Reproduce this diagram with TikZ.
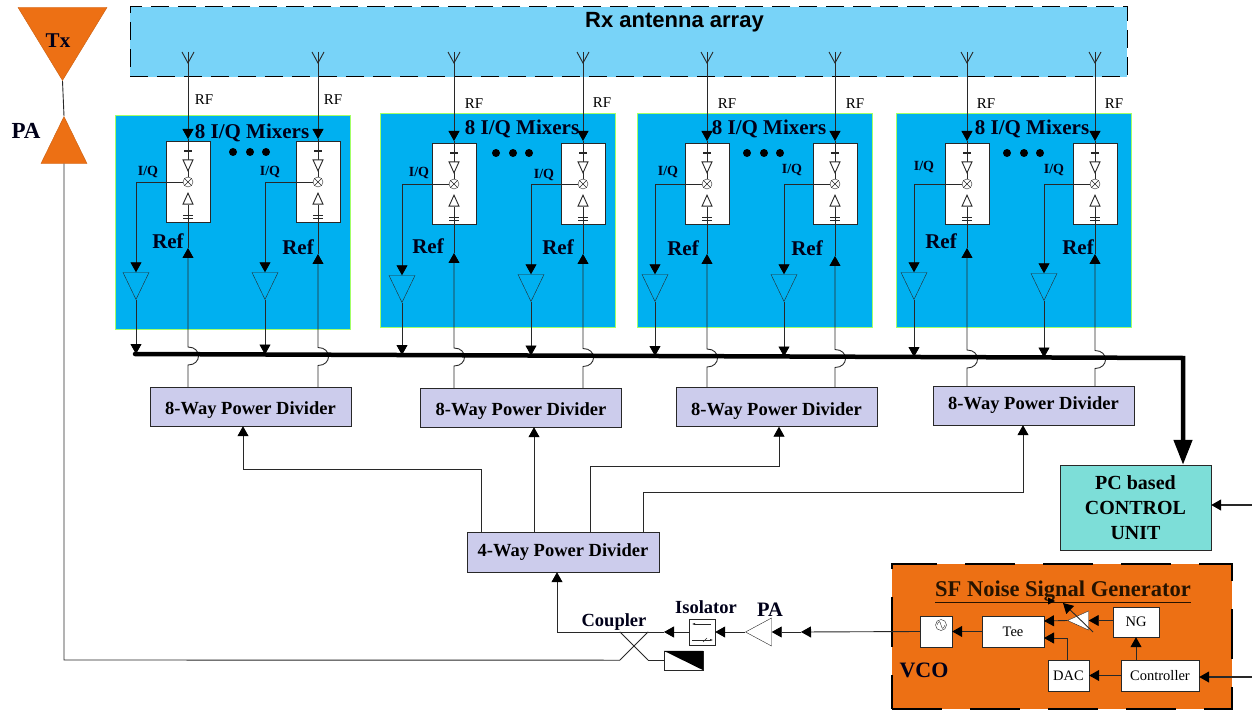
\documentclass[tikz,border=0pt]{standalone}
\usepackage{fontspec}
\setmainfont{Liberation Serif}
\setsansfont{Liberation Sans}
\usepackage{xcolor}
\usetikzlibrary{positioning,arrows.meta,shapes.geometric,calc}
\definecolor{blockblue}{RGB}{0,176,240}
\definecolor{arrayblue}{RGB}{120,211,248}
\definecolor{txorange}{RGB}{237,112,20}
\definecolor{pdpurple}{RGB}{204,204,236}
\definecolor{unitteal}{RGB}{125,222,216}
\definecolor{wire}{RGB}{40,40,40}
\newcommand{\pdtext}[1]{\raisebox{-4pt}[12pt][4pt]{#1}}
\tikzset{
blockbox/.style={
draw=green!60!yellow!60,
fill=blockblue,
minimum width=235,
minimum height=214,
inner sep=0
},
mixbox/.style={
draw=wire,
fill=white,
minimum width=44,
minimum height=81,
inner sep=0
},
pdbox/.style={
draw=wire,
fill=pdpurple,
minimum width=201,
minimum height=39,
inner sep=0,
font=\fontsize{18.5}{19}\selectfont\bfseries
},
whitebox/.style={
draw=wire,
fill=white,
inner sep=0,
font=\fontsize{14.5}{15}\selectfont
},
ampnode/.style={
isosceles triangle,
isosceles triangle stretches,
shape border rotate=270,
draw=wire,
inner sep=0,
minimum width=26,
minimum height=27,
anchor=apex
},
smalltri/.style={
isosceles triangle,
isosceles triangle stretches,
draw=wire,
line width=0.9pt,
fill=white,
inner sep=0,
minimum width=10,
minimum height=11
},
mixcircle/.style={
circle,
draw=wire,
fill=white,
minimum size=10,
inner sep=0,
path picture={
\draw[wire,thin] (path picture bounding box.north west)--(path picture bounding box.south east);
\draw[wire,thin] (path picture bounding box.north east)--(path picture bounding box.south west);
}
},
lblbold/.style={
font=\fontsize{21}{22}\selectfont\bfseries,
text=black!90!blue,
inner sep=0
},
lblsmall/.style={
font=\fontsize{14}{15}\selectfont\bfseries,
text=black!90!blue,
inner sep=0
},
lblrf/.style={
font=\fontsize{15}{16}\selectfont,
inner sep=0
},
plainwire/.style={
draw=wire,
line width=0.9pt
},
arrow/.style={
-{Triangle[length=10pt,width=11pt,color=black,fill=black]},
draw=wire,
line width=0.9pt
},
busline/.style={
-{Triangle[length=25pt,width=18pt]},
line width=4.5pt,
line cap=round,
line join=miter
}
}
\begin{document}
\begin{tikzpicture}[x=1pt,y=-1pt]
\useasboundingbox (0,0) rectangle (1252,711);

% receive side
\node[draw=black,dash pattern=on 18pt off 9pt,line width=1pt,fill=arrayblue,minimum width=997,minimum height=70,inner sep=0](rxarray) at (628.5,42){};
\node[font=\fontsize{22}{23}\selectfont\bfseries\sffamily,inner sep=0](rxlabel) at (674.5,22){Rx antenna array};

\node[blockbox](blk1) at (232.5,222){};
\node[blockbox](blk2) at (497.5,220.5){};
\node[blockbox](blk3) at (754.5,220){};
\node[blockbox](blk4) at (1013.5,220){};

\node[pdbox](pd1) at (250.5,406.5){\pdtext{8-Way Power Divider}};
\node[pdbox](pd2) at (521,407.5){\pdtext{8-Way Power Divider}};
\node[pdbox](pd3) at (776.5,407){\pdtext{8-Way Power Divider}};
\node[pdbox](pd4) at (1033.5,405.5){8-Way Power Divider};
\node[pdbox,minimum width=192,minimum height=40](pdfour) at (563,552){4-Way Power Divider};

\coordinate (busl) at (135,354);
\coordinate (busr) at (1183,358);
\node[draw=wire,fill=unitteal,minimum width=151,minimum height=85,inner sep=0,align=center,font=\fontsize{20}{25}\selectfont\bfseries](unit) at (1135.5,507.5){PC based\\CONTROL\\UNIT};

% one channel: antenna, mixer, baseband amplifier, reference
\foreach \c/\b/\a/\p/\m/\t/\r/\u in {
a/1/188/136/141/273/248/354,
b/1/318/265/141/273/254/354.5,
c/2/454/402/143/276/253/355,
d/2/583/531/143/275/254/355.5,
e/3/707/655/143/275/254/356,
f/3/835/784/143/275/256/356.5,
g/4/967/914/143/273/248/357,
h/4/1095/1044/143/274/254/357.5}{
\node[mixbox,anchor=north](mix\c) at (\a,\m){};
\node[mixcircle](cir\c) at (\a,\m+41){};
\coordinate (ant\c) at (\a,63);
\draw[plainwire] (\a-6,52)--(ant\c)--(\a+6,52);
\draw[plainwire] (\a,52)--(ant\c);
\draw[arrow] (ant\c)--(\a,\m-2);
\draw[plainwire] (\a,\m-2)--(cir\c.north);
\node[smalltri,shape border rotate=270,anchor=apex](trd\c) at (\a,\m+31){};
\node[smalltri,shape border rotate=90,anchor=apex](tru\c) at (\a,\m+51){};
\draw[line width=1.4pt,wire] (\a-4,\m+10)--(\a+4,\m+10);
\draw[plainwire] (\a-5,\m+74)--(\a+5,\m+74);
\draw[plainwire] (\a-5,\m+77)--(\a+5,\m+77);
\node[ampnode](amp\c) at (\p,\t+27){};
\coordinate (tap\c) at (\p,\m+41);
\draw[arrow] (cir\c.west)--(tap\c)--(amp\c.lower side);
\coordinate (bus\c) at (\p,\u);
\draw[arrow] (amp\c.apex)--(bus\c);
\coordinate (ref\c) at (\a,\r);
\draw[arrow] (pd\b.north -| ref\c)--(\a,\u+11) .. controls (\a+14,\u+11) and (\a+14,\u-7) .. (\a,\u-7)--(ref\c);
\draw[plainwire] (ref\c)--(tru\c.lower side);
}

\draw[busline] (busl)--(busr)--(unit.north -| busr);

% labels inside the blocks
\foreach \x/\y in {204/100,333/100,474/104,602/103,727/104,855/104,986/104,1114/104}{
\node[lblrf] at (\x,\y){RF};
}
\foreach \x/\y in {252/133,522/129,769/129,1032/129}{
\node[lblbold] at (\x,\y){8 I/Q Mixers};
}
\foreach \x/\y in {148/172,270/172,419/173,544/175,668/172,792/170,924/167,1054/170}{
\node[lblsmall] at (\x,\y){I/Q};
}
\foreach \x/\y in {168/241,298/247,428/246,558/247,683/248,807/248,941/241,1078/247}{
\node[lblbold] at (\x,\y){Ref};
}
\foreach \x/\y in {250/152,513/153,764/153,1024/153}{
\fill (\x-17,\y) circle (4);
\fill (\x,\y) circle (4);
\fill (\x+16,\y) circle (4);
}

% 4-way to the 8-way dividers
\draw[arrow] (pdfour.north -| 481,0)--(481,469)--(243,469)--(pd1.south -| 243,0);
\draw[arrow] (pdfour.north -| 534,0)--(pd2.south -| 534,0);
\draw[arrow] (pdfour.north -| 590,0)--(590,466)--(779,466)--(pd3.south -| 779,0);
\draw[arrow] (pdfour.north -| 643,0)--(643,492)--(1023,492)--(pd4.south -| 1023,0);

% generator
\node[draw=black,dash pattern=on 50pt off 28pt,line width=2.5pt,fill=txorange,minimum width=340,minimum height=145,inner sep=0](gen) at (1062,636.5){};
\node[font=\fontsize{22.5}{23}\selectfont\bfseries,text=black!85!orange,inner sep=0](gentitle) at (1063,592){\underline{SF Noise Signal Generator}};
\node[lblbold,font=\fontsize{22}{23}\selectfont\bfseries](vcolabel) at (924,670){VCO};
\node[whitebox,minimum width=32,minimum height=31](vco) at (936,631.5){};
\node[draw=wire,circle,minimum size=11,inner sep=0](sine) at (941,625){};
\draw[wire,thin] (937,625) .. controls (939,620) and (940,621) .. (941,625) .. controls (942,629) and (943,630) .. (945,625);
\node[whitebox,minimum width=62,minimum height=31](tee) at (1013,631.5){Tee};
\node[whitebox,minimum width=46,minimum height=30](ng) at (1136,622){NG};
\node[whitebox,minimum width=41,minimum height=31](dac) at (1068.5,675.5){DAC};
\node[whitebox,minimum width=78,minimum height=31](ctrl) at (1160,675.5){Controller};
\node[isosceles triangle,isosceles triangle stretches,shape border rotate=180,draw=wire,fill=white,inner sep=0,minimum width=19,minimum height=21,anchor=apex](atten) at (1067,620.5){};
\coordinate (attena) at (1093,632);
\coordinate (attenb) at (1063,603);
\coordinate (inctrl) at (1252,677);
\coordinate (inunit) at (1252,505);
\coordinate (teeb) at (1044,638);
\coordinate (teea) at (1044,621);
\coordinate (dactop) at (1067,638);
\draw[arrow] (ng.west |- atten.lower side)--(atten.lower side);
\draw[arrow] (atten.apex)--(teea);
\draw[arrow] (attena)--(attenb);
\fill (1048,597.5)--(1055,601)--(1048,604.5)--cycle;
\draw[arrow] (ctrl.north -| ng)--(ng.south);
\draw[arrow] (ctrl.west |- dac)--(dac.east);
\draw[arrow] (dac.north -| dactop)--(dactop)--(teeb);
\draw[arrow] (tee.west)--(vco.east);
\draw[arrow,line width=1.2pt] (inctrl)--(ctrl.east |- inctrl);
\draw[arrow,line width=1.2pt] (inunit)--(unit.east |- inunit);

% transmit chain
\node[whitebox,minimum width=26,minimum height=26,fill=none](isol) at (702,632){};
\draw[-{Latex[length=3pt]},wire,thin] (711,624)--(692,624);
\draw[-{Latex[length=3pt]},wire,thin] (692,640)--(713,640);
\draw[wire,thin] (703,642)--(707,638);
\node[isosceles triangle,isosceles triangle stretches,shape border rotate=180,draw=wire,inner sep=0,minimum width=28,minimum height=26,anchor=apex](pa) at (745,632){};
\coordinate (midarrow) at (801,632);
\node[minimum width=28,minimum height=28,inner sep=0](coupler) at (634,646){};
\node[draw=wire,fill=white,minimum width=39,minimum height=19,inner sep=0](load) at (683.5,660.5){};
\fill (load.north west)--(load.north east)--(load.south east)--cycle;
\coordinate (bend) at (557,632);
\coordinate (txcorner) at (64,660);
\draw[arrow] (vco.west)--(midarrow);
\draw[arrow] (midarrow)--(pa.lower side);
\draw[arrow] (pa.apex)--(isol.east);
\draw[arrow] (isol.west)--(664,632);
\draw[arrow] (664,632)--(bend)--(pdfour.south -| bend);
\draw[wire,line width=0.8pt] (coupler.north west)--(coupler.south east);
\draw[wire,line width=0.8pt] (coupler.north east)--(coupler.south west);
\draw[plainwire] (coupler.south east)--(load.west |- coupler.south);
\node[isosceles triangle,isosceles triangle stretches,shape border rotate=270,draw=txorange!85!black,fill=txorange,inner sep=0,minimum width=89,minimum height=73,anchor=apex](txant) at (62.5,81){};
\node[isosceles triangle,isosceles triangle stretches,shape border rotate=90,draw=txorange!85!black,fill=txorange,inner sep=0,minimum width=46,minimum height=47,anchor=apex](txpa) at (64,116){};
\draw[plainwire] (txant.apex)--(txpa.apex);
\draw[plainwire] (txpa.lower side)--(txcorner)--(coupler.south west);
\node[lblbold,font=\fontsize{21}{22}\selectfont\bfseries](txlabel) at (58,41){Tx};
\node[lblbold,font=\fontsize{23}{24}\selectfont\bfseries](palabel) at (26,131){PA};
\node[lblbold,font=\fontsize{18.5}{19}\selectfont\bfseries](couplabel) at (614,622){Coupler};
\node[lblbold,font=\fontsize{18.5}{19}\selectfont\bfseries](isollabel) at (706,607){Isolator};
\node[lblbold,font=\fontsize{20.5}{21}\selectfont\bfseries](pa2label) at (770,610){PA};
\end{tikzpicture}
\end{document}
